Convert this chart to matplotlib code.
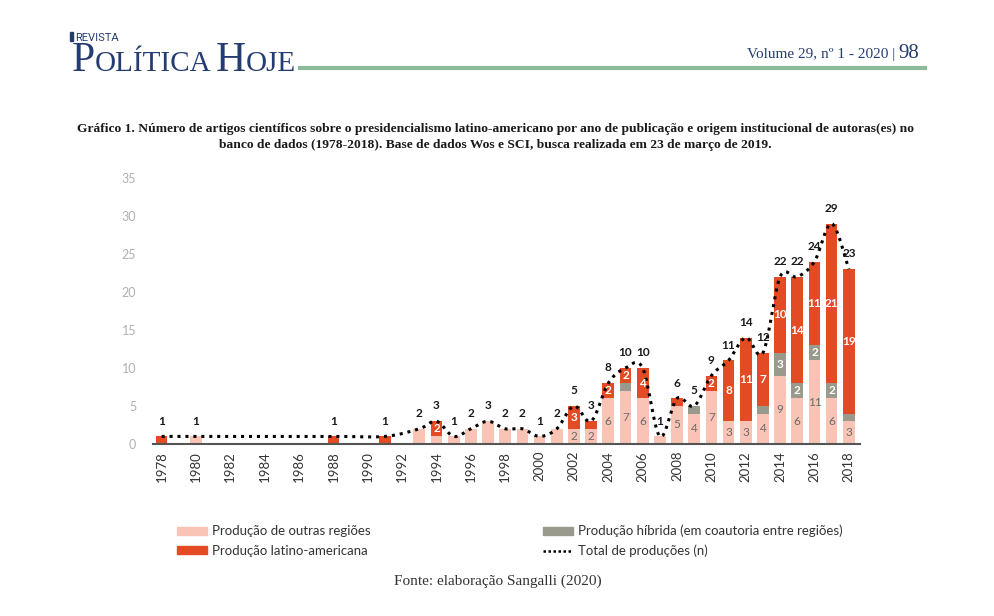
import matplotlib
matplotlib.use("Agg")
import matplotlib.pyplot as plt
import numpy as np
from matplotlib.patches import Patch, Rectangle
from matplotlib.lines import Line2D

# --- data ---
years = [1978, 1980, 1988, 1991, 1993, 1994, 1995, 1996, 1997, 1998, 1999, 2000,
         2001, 2002, 2003, 2004, 2005, 2006, 2007, 2008, 2009, 2010, 2011, 2012,
         2013, 2014, 2015, 2016, 2017, 2018]
outras = [0, 1, 0, 0, 2, 1, 1, 2, 3, 2, 2, 1, 2, 2, 2, 6, 7, 6, 1, 5, 4, 7, 3, 3,
          4, 9, 6, 11, 6, 3]
hibrida = [0, 0, 0, 0, 0, 0, 0, 0, 0, 0, 0, 0, 0, 0, 0, 0, 1, 0, 0, 0, 1, 0, 0, 0,
           1, 3, 2, 2, 2, 1]
latam = [1, 0, 1, 1, 0, 2, 0, 0, 0, 0, 0, 0, 0, 3, 1, 2, 2, 4, 0, 1, 0, 2, 8, 11,
         7, 10, 14, 11, 21, 19]
year_ticks = list(range(1978, 2019, 2))
y_ticks = [0, 5, 10, 15, 20, 25, 30, 35]

c_outras = "#F9C4B5"
c_hibrida = "#9A9A8C"
c_latam = "#E34B24"
navy = "#253C72"
serif = "Liberation Serif"
sans = "Lato"

x = np.array(years, dtype=float)
o = np.array(outras)
h = np.array(hibrida)
l = np.array(latam)
total = o + h + l


def catmull_rom(px, py, n=20):
    # smooth line through the points (like a spreadsheet "smoothed line")
    P = np.column_stack([px, py])
    P = np.vstack([P[0], P, P[-1]])
    out = []
    for i in range(1, len(P) - 2):
        p0, p1, p2, p3 = P[i - 1], P[i], P[i + 1], P[i + 2]
        t = np.linspace(0, 1, n)[:, None]
        seg = 0.5 * ((2 * p1) + (-p0 + p2) * t
                     + (2 * p0 - 5 * p1 + 4 * p2 - p3) * t ** 2
                     + (-p0 + 3 * p1 - 3 * p2 + p3) * t ** 3)
        out.append(seg)
    out = np.vstack(out)
    return out[:, 0], out[:, 1]


fig = plt.figure(figsize=(9.95, 6.16), dpi=100)
ax = fig.add_axes([153 / 995, 1 - 444 / 616, (860 - 153) / 995, (444 - 178) / 616])

w = 0.68
ax.bar(x, o, w, color=c_outras, zorder=2)
ax.bar(x, h, w, bottom=o, color=c_hibrida, zorder=2)
ax.bar(x, l, w, bottom=o + h, color=c_latam, zorder=2)

sx, sy = catmull_rom(x, total)
ax.plot(sx, sy, color="black", linestyle=(0, (1, 1.6)), linewidth=2.2, zorder=3)

for i in range(len(x)):
    parts = int(o[i] > 0) + int(h[i] > 0) + int(l[i] > 0)
    if parts > 1:
        if o[i] >= 2:
            ax.text(x[i], o[i] / 2, str(o[i]), ha="center", va="center",
                    fontsize=8.5, color="#6b6b6b", family=sans, zorder=4)
        if h[i] >= 2:
            ax.text(x[i], o[i] + h[i] / 2, str(h[i]), ha="center", va="center",
                    fontsize=8.5, color="white", fontweight="bold", family=sans, zorder=4)
        if l[i] >= 2:
            ax.text(x[i], o[i] + h[i] + l[i] / 2, str(l[i]), ha="center", va="center",
                    fontsize=8.5, color="white", fontweight="bold", family=sans, zorder=4)
    ax.annotate(str(total[i]), (x[i], total[i]), xytext=(0, 7), textcoords="offset points",
                ha="center", va="bottom", fontsize=8.5, fontweight="bold",
                color="#1a1a1a", family=sans, zorder=4)

ax.set_xlim(1977.5, 2018.65)
ax.set_ylim(0, 35)
ax.set_xticks(year_ticks)
ax.set_xticklabels([str(t) for t in year_ticks], rotation=90, fontsize=9.5,
                   color="#333333", family=sans)
ax.set_yticks(y_ticks)
ax.set_yticklabels([str(t) for t in y_ticks], fontsize=9, color="#b0b0b0", family=sans)
ax.tick_params(axis="both", length=0)
ax.tick_params(axis="y", pad=12)
ax.tick_params(axis="x", pad=5)
for s in ["top", "right", "left"]:
    ax.spines[s].set_visible(False)
ax.spines["bottom"].set_color("#555555")
ax.spines["bottom"].set_linewidth(1.5)

# legend
handles = [Patch(color=c_outras), Patch(color=c_latam), Patch(color=c_hibrida),
           Line2D([], [], color="black", linestyle=(0, (1, 1)), linewidth=1.8)]
labels = ["Produção de outras regiões", "Produção latino-americana",
          "Produção híbrida (em coautoria entre regiões)", "Total de produções (n)"]
fig.legend(handles, labels, ncol=2, loc="upper left",
           bbox_to_anchor=(165 / 995, 1 - 513 / 616), frameon=False,
           handlelength=2.3, handleheight=0.6, handletextpad=0.4,
           columnspacing=13.0, labelspacing=0.55,
           prop={"family": sans, "size": 9.5}, labelcolor="#333333")

# header
fig.patches.append(Rectangle((70 / 995, 1 - 41 / 616), 3 / 995, 9 / 616,
                             transform=fig.transFigure, color=navy))
fig.text(75 / 995, 1 - 41 / 616, "REVISTA", fontsize=8, color=navy, family="Roboto",
         va="baseline")

renderer = fig.canvas.get_renderer()
xpos = 72 / 995
base = 1 - 71 / 616
for piece, size in [("P", 30), ("OLÍTICA", 21), (" ", 12), ("H", 30), ("OJE", 21)]:
    t = fig.text(xpos, base, piece, fontsize=size, color=navy, family=serif, va="baseline")
    bb = t.get_window_extent(renderer)
    xpos += bb.width / fig.bbox.width

fig.add_artist(Line2D([300 / 995, 925 / 995], [1 - 68 / 616, 1 - 68 / 616],
                      color="#8DBB9B", linewidth=3, transform=fig.transFigure))
fig.text(895 / 995, 1 - 58 / 616, "Volume 29, nº 1 - 2020 |", fontsize=11, color=navy,
         family=serif, ha="right", va="baseline")
fig.text(898 / 995, 1 - 58 / 616, "98", fontsize=15, color=navy,
         family=serif, ha="left", va="baseline")

# title
fig.text(0.498, 1 - 137 / 616,
         "Gráfico 1. Número de artigos científicos sobre o presidencialismo latino-americano "
         "por ano de publicação e origem institucional de autoras(es) no\n"
         "banco de dados (1978-2018). Base de dados Wos e SCI, busca realizada em 23 de março de 2019.",
         ha="center", va="center", fontsize=9.7, fontweight="bold", family=serif,
         color="#1a1a1a", linespacing=1.5)

fig.text(0.5, 1 - 581 / 616, "Fonte: elaboração Sangalli (2020)", ha="center", va="center",
         fontsize=11, family=serif, color="#333333")

fig.savefig("out.png", dpi=100)
